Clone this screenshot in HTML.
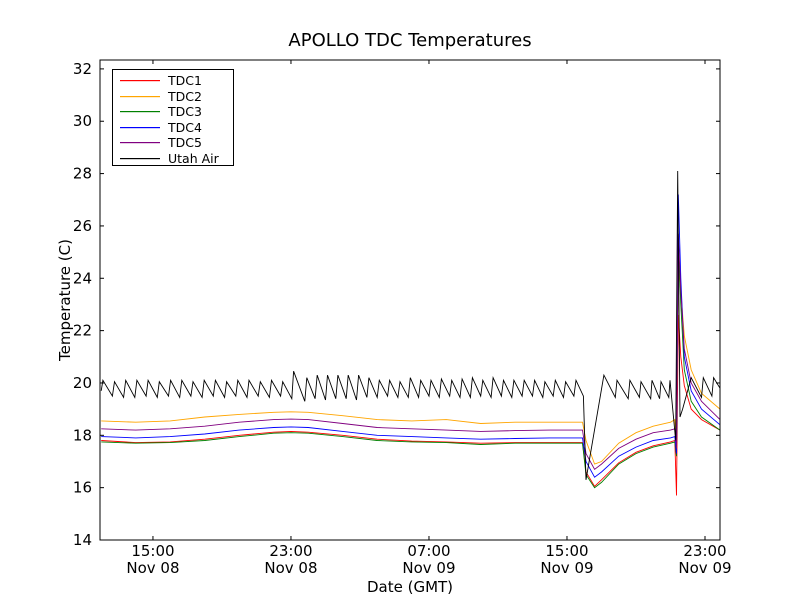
<!DOCTYPE html>
<html><head><meta charset="utf-8"><style>
body{margin:0;background:#fff;}
svg{display:block;font-family:"DejaVu Sans","Liberation Sans",sans-serif;}
</style></head><body>
<svg id="chart" width="800" height="600">
<rect x="0" y="0" width="800" height="600" fill="#fff"/>
<text x="410" y="46" text-anchor="middle" font-size="18">APOLLO TDC Temperatures</text>
<text transform="translate(70,300) rotate(-90)" text-anchor="middle" font-size="15">Temperature (C)</text>
<text x="410" y="592" text-anchor="middle" font-size="15">Date (GMT)</text>
<g id="series"></g>
<g id="axes"></g>
<rect x="100" y="60" width="620" height="480" fill="none" stroke="#000" stroke-width="1"/>
<g id="legend"></g>
</svg>
<script>
const T=[0,2,4,6,8,10,11,12,14,16,18,20,22,24,26,27.9,28.1,28.6,29,30,31,32,33,33.25,33.35,33.45,33.6,33.8,34.2,34.8,35.87];
const tdc1=[17.8,17.72,17.75,17.85,18.0,18.12,18.15,18.12,18.0,17.85,17.78,17.75,17.7,17.72,17.72,17.72,16.6,16.05,16.3,16.95,17.35,17.6,17.75,17.8,15.7,22.6,21.0,19.9,19.0,18.6,18.2];
const tdc2=[18.55,18.5,18.55,18.7,18.8,18.88,18.9,18.88,18.75,18.6,18.55,18.6,18.45,18.5,18.5,18.5,17.8,16.9,17.0,17.7,18.1,18.35,18.5,18.6,17.8,24.4,23.5,21.8,20.5,19.6,19.0];
const tdc3=[17.75,17.7,17.72,17.8,17.95,18.08,18.1,18.08,17.95,17.8,17.75,17.72,17.65,17.7,17.7,17.7,16.5,16.0,16.2,16.9,17.3,17.55,17.7,17.75,17.2,25.3,23.0,20.5,19.3,18.7,18.2];
const tdc4=[17.95,17.9,17.95,18.05,18.2,18.3,18.32,18.3,18.15,18.0,17.95,17.9,17.85,17.88,17.9,17.9,17.0,16.4,16.6,17.2,17.55,17.8,17.9,17.95,17.3,27.2,24.0,21.0,19.7,19.0,18.4];
const tdc5=[18.25,18.2,18.25,18.35,18.5,18.6,18.62,18.6,18.45,18.3,18.25,18.2,18.15,18.18,18.2,18.2,17.3,16.7,16.9,17.5,17.85,18.1,18.2,18.25,17.5,25.7,23.5,21.3,20.0,19.3,18.6];
const airT=[0,0.1,0.65,0.77,1.3,1.42,1.95,2.07,2.6,2.72,3.25,3.37,3.9,4.02,4.55,4.67,5.2,5.32,5.85,5.97,6.5,6.62,7.15,7.27,7.8,7.92,8.45,8.57,9.1,9.22,9.75,9.87,10.4,10.52,11.05,11.15,11.8,11.92,12.4,12.52,13.0,13.12,13.6,13.72,14.2,14.32,14.8,14.92,15.4,15.52,16.0,16.12,16.6,16.72,17.2,17.32,17.8,17.92,18.4,18.52,19.0,19.12,19.6,19.72,20.2,20.32,20.8,20.92,21.4,21.52,22.0,22.12,22.6,22.72,23.2,23.32,23.8,23.92,24.4,24.52,25.0,25.12,25.6,25.72,26.2,26.32,26.8,26.92,27.4,27.52,27.95,28.1,29.14,29.8,29.9,30.55,30.65,31.2,31.29,31.85,31.93,32.37,32.45,32.9,32.97,33.3,33.42,33.55,33.7,34.2,34.8,34.9,35.4,35.5,35.87];
const airV=[19.7,20.1,19.5,20.05,19.45,20.1,19.45,20.1,19.5,20.1,19.45,20.05,19.5,20.1,19.45,20.1,19.5,20.05,19.45,20.1,19.5,20.1,19.45,20.05,19.5,20.1,19.45,20.1,19.5,20.05,19.45,20.1,19.5,20.05,19.4,20.45,19.3,20.2,19.4,20.3,19.35,20.3,19.4,20.3,19.4,20.3,19.35,20.3,19.45,20.2,19.45,20.1,19.5,20.1,19.45,20.05,19.45,20.2,19.45,20.1,19.5,20.1,19.45,20.15,19.5,20.1,19.45,20.15,19.45,20.2,19.5,20.1,19.45,20.2,19.5,20.1,19.45,20.1,19.5,20.1,19.5,20.1,19.45,20.05,19.5,20.1,19.45,20.05,19.5,20.1,19.5,16.3,20.3,19.45,20.1,19.4,20.1,19.45,20.05,19.4,20.1,19.4,20.05,19.45,20.1,17.8,28.1,18.7,19.0,20.2,19.45,20.2,19.5,20.2,19.8];
const yTicks=[14,16,18,20,22,24,26,28,30,32];
const xTickT=[3,11,19,27,35];
const xTickL1=["15:00","23:00","07:00","15:00","23:00"];
const xTickL2=["Nov 08","Nov 08","Nov 09","Nov 09","Nov 09"];
const seriesNames=["TDC1","TDC2","TDC3","TDC4","TDC5","Utah Air"];
const seriesColors=["#ff0000","#ffa500","#008000","#0000ff","#800080","#000000"];

const X0=100,X1=720,Y0=540,Y1=60,TMIN=-0.07,TMAX=35.87,VMIN=14,VMAX=32.34;
function sx(t){return X0+(t-TMIN)/(TMAX-TMIN)*(X1-X0);}
function sy(v){return Y0-(v-VMIN)/(VMAX-VMIN)*(Y0-Y1);}
const NS="http://www.w3.org/2000/svg";
function mk(tag,attrs,parent){const e=document.createElementNS(NS,tag);for(const k in attrs)e.setAttribute(k,attrs[k]);parent.appendChild(e);return e;}
const sg=document.getElementById('series');
const data=[[T,tdc1],[T,tdc2],[T,tdc3],[T,tdc4],[T,tdc5],[airT,airV]];
data.forEach((d,i)=>{
  const pts=d[0].map((t,j)=>sx(t).toFixed(1)+","+sy(d[1][j]).toFixed(1)).join(" ");
  const p=mk('polyline',{points:pts,fill:'none',stroke:seriesColors[i],'stroke-width':0.9},sg);
  
  
});
const ag=document.getElementById('axes');
yTicks.forEach(v=>{
  const y=sy(v);
  mk('line',{x1:X0,y1:y,x2:X0+4,y2:y,stroke:'#000'},ag);
  mk('line',{x1:X1,y1:y,x2:X1-4,y2:y,stroke:'#000'},ag);
  const t=mk('text',{x:X0-8,y:y+5,'text-anchor':'end','font-size':15},ag);
  t.textContent=v;
  
  
});
xTickT.forEach((tt,i)=>{
  const x=sx(tt);
  mk('line',{x1:x,y1:Y0,x2:x,y2:Y0-4,stroke:'#000'},ag);
  mk('line',{x1:x,y1:Y1,x2:x,y2:Y1+4,stroke:'#000'},ag);
  const a=mk('text',{x:x,y:556,'text-anchor':'middle','font-size':15},ag);
  a.textContent=xTickL1[i];
  
  
  const b=mk('text',{x:x,y:573,'text-anchor':'middle','font-size':15},ag);
  b.textContent=xTickL2[i];
  
  
});
const lg=document.getElementById('legend');
mk('rect',{x:112.5,y:69.5,width:121,height:96,fill:'#fff',stroke:'#000'},lg);
seriesNames.forEach((n,i)=>{
  const y=Math.round(80+i*15.5);
  mk('rect',{x:120,y:y,width:40,height:1.2,fill:seriesColors[i],stroke:'none'},lg);
  const t=mk('text',{x:168,y:y+5,'font-size':12.5},lg);
  t.textContent=n;
  
  
});
</script>
</body></html>
